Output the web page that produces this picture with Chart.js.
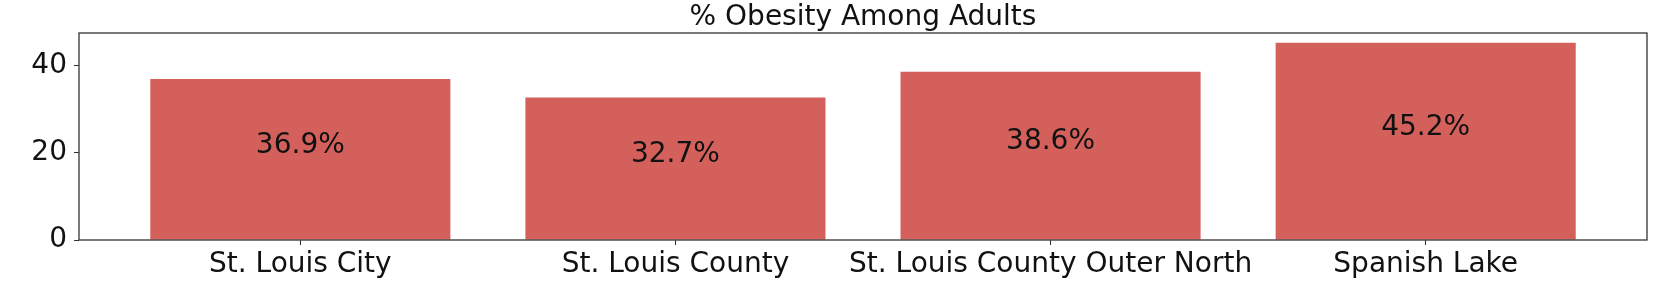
<!DOCTYPE html>
<html>
<head>
<meta charset="utf-8">
<script src="https://cdn.jsdelivr.net/npm/chart.js@4.4.0/dist/chart.umd.min.js"></script>
<style>
  html, body { margin: 0; padding: 0; background: #fff; }
  #wrap { width: 1664px; height: 284px; }
</style>
</head>
<body>
<div id="wrap"><canvas id="obesityChart"></canvas></div>
<script>
const places = ['St. Louis City', 'St. Louis County', 'St. Louis County Outer North', 'Spanish Lake']
const obesityPct = [36.9, 32.7, 38.6, 45.2]
const yTicks = [0, 20, 40]
const chartTitle = '% Obesity Among Adults'

const FONT = "'DejaVu Sans', sans-serif"
const barColor = '#d4605b'

// frame + title + value labels, matplotlib style
const extras = {
    id: 'extras',
    afterDatasetsDraw(chart) {
        const ctx = chart.ctx
        const area = chart.chartArea
        const yScale = chart.scales.y
        ctx.save()
        ctx.fillStyle = '#111'
        ctx.font = '28px ' + FONT
        ctx.textAlign = 'center'
        ctx.textBaseline = 'alphabetic'
        chart.getDatasetMeta(0).data.forEach(function(bar, i) {
            let v = obesityPct[i]
            let y = yScale.getPixelForValue(v / 2) - 6.6
            ctx.fillText(v.toFixed(1) + '%', bar.x, y)
        })
        ctx.strokeStyle = '#333'
        ctx.lineWidth = 1.3
        ctx.strokeRect(area.left, area.top, area.right - area.left, area.bottom - area.top)
        ctx.fillText(chartTitle, (area.left + area.right) / 2, 25)
        ctx.restore()
    }
}

new Chart(document.getElementById('obesityChart'), {
    type: 'bar',
    data: {
        datasets: [{
            data: obesityPct.map((v, i) => ({ x: i, y: v })),
            backgroundColor: barColor,
            borderWidth: 0,
            barPercentage: 0.8,
            categoryPercentage: 1.0
        }]
    },
    options: {
        responsive: true,
        maintainAspectRatio: false,
        animation: false,
        layout: { padding: { top: 33, right: 17, left: 0, bottom: 0 } },
        plugins: {
            legend: { display: false },
            tooltip: { enabled: false }
        },
        scales: {
            x: {
                type: 'linear',
                offset: false,
                min: -0.59,
                max: 3.59,
                afterBuildTicks: function(scale) {
                    scale.ticks = places.map((p, i) => ({ value: i }))
                },
                afterFit: function(scale) { scale.height = 44 },
                ticks: {
                    color: '#111',
                    font: { family: FONT, size: 28 },
                    padding: 3,
                    maxRotation: 0,
                    autoSkip: false,
                    callback: function(value) { return places[value] }
                },
                grid: { offset: false, drawOnChartArea: false, tickLength: 5, color: '#333' },
                border: { display: false }
            },
            y: {
                min: 0,
                max: 47.46,
                afterBuildTicks: function(scale) {
                    scale.ticks = yTicks.map(v => ({ value: v }))
                },
                afterFit: function(scale) { scale.width = 79 },
                ticks: {
                    color: '#111',
                    font: { family: FONT, size: 28 },
                    padding: 7
                },
                grid: { drawOnChartArea: false, tickLength: 5, color: '#333' },
                border: { display: false }
            }
        }
    },
    plugins: [extras]
})
</script>
</body>
</html>
